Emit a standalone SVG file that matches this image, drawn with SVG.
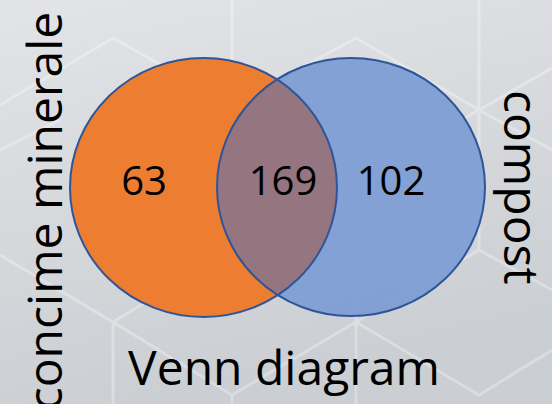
<svg xmlns="http://www.w3.org/2000/svg" width="552" height="404" viewBox="0 0 552 404">
<defs>
<linearGradient id="bg" x1="0" y1="0" x2="0.3" y2="1">
<stop offset="0" stop-color="#e2e4e7"/>
<stop offset="1" stop-color="#cbced2"/>
</linearGradient>
<clipPath id="clipOrange"><ellipse cx="203.5" cy="187.5" rx="133.5" ry="129.5"/></clipPath>
</defs>
<style>
.net{stroke:#ffffff;stroke-opacity:0.3;stroke-width:3;fill:none}
.circ{stroke:#2f5597;stroke-width:2}
.lbl{font-family:"Open Sans","Noto Sans","DejaVu Sans",sans-serif;fill:#000000}
.num{font-size:40px;text-anchor:middle}
.big{font-size:48px}
</style>
<rect width="552" height="404" fill="url(#bg)"/>
<g id="background-net">
<path class="net" d="M0 105 L113 38 L232 105 M232 0 L232 105 M356 38 L232 105 M356 38 L479 110 M479 0 L479 110 L552 68 M479 110 L552 150 M479 110 L356 180 M0 255 L113 322 L232 250 M113 322 L113 404 M113 322 L232 395 L232 404 M232 395 L356 322 L479 395 L552 350 M356 322 L356 180 M356 322 L356 404 M356 322 L479 250 L552 290 M479 250 L479 110 M0 150 L60 120"/>
</g>
<g id="set-concime">
<ellipse cx="203.5" cy="187.5" rx="133.5" ry="129.5" fill="#ed7d31"/>
</g>
<g id="set-compost">
<ellipse cx="351" cy="187" rx="134" ry="129" fill="#7f9ed3" fill-opacity="0.96"/>
</g>
<g id="intersection">
<ellipse cx="351" cy="187" rx="134" ry="129" fill="#957580" clip-path="url(#clipOrange)"/>
</g>
<g id="outlines">
<ellipse class="circ" cx="203.5" cy="187.5" rx="133.5" ry="129.5" fill="none"/>
<ellipse class="circ" cx="351" cy="187" rx="134" ry="129" fill="none"/>
</g>
<g id="labels">
<text class="lbl num" x="144" y="195">63</text>
<text class="lbl num" x="283" y="195">169</text>
<text class="lbl num" x="391" y="195">102</text>
<text class="lbl big" x="284" y="385" text-anchor="middle">Venn diagram</text>
<text class="lbl big" transform="translate(62 211) rotate(-90)" text-anchor="middle">concime minerale</text>
<text class="lbl big" transform="translate(504 90) rotate(90)">compost</text>
</g>
</svg>
